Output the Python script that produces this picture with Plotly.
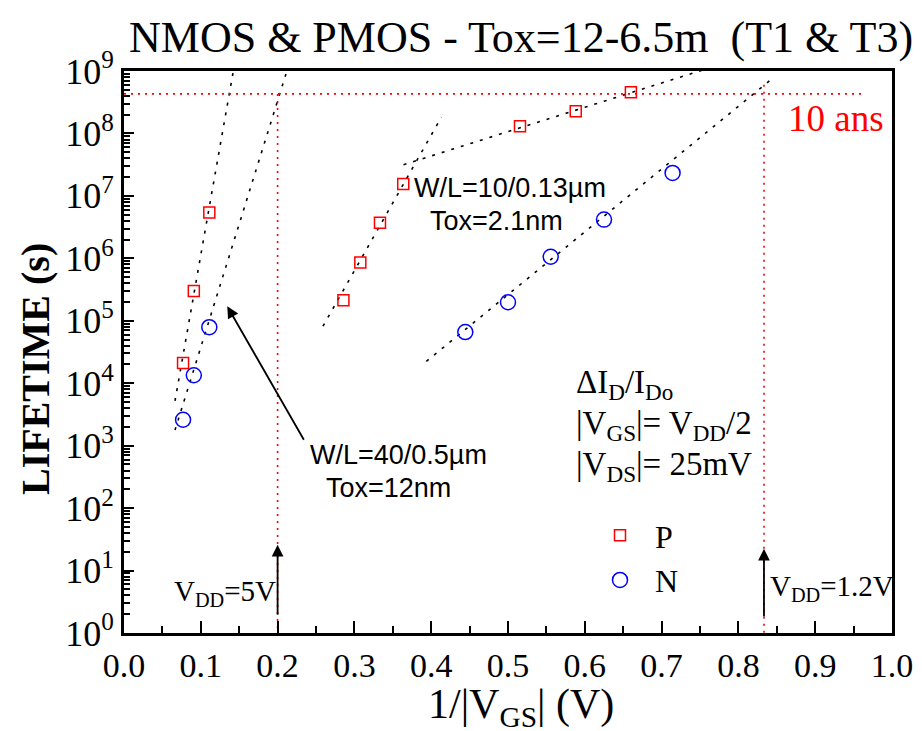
import plotly.graph_objects as go
import numpy as np

# ---------------- data ----------------
# PMOS (squares)
p_x_thick = [0.0769, 0.0909, 0.1111]
p_y_thick = [2.1e4, 3.0e5, 5.4e6]
p_x_thin = [0.2857, 0.3077, 0.3333, 0.3636, 0.5156, 0.5882, 0.6600]
p_y_thin = [2.13e5, 8.6e5, 3.7e6, 1.55e7, 1.3e8, 2.27e8, 4.57e8]
# NMOS (circles)
n_x_thick = [0.0769, 0.0909, 0.1111]
n_y_thick = [2.6e3, 1.34e4, 7.9e4]
n_x_thin = [0.4444, 0.5000, 0.5556, 0.6250, 0.7143]
n_y_thin = [6.6e4, 1.98e5, 1.06e6, 4.17e6, 2.33e7]

# fitted (dotted) lines: end points (x, lifetime)
fit_p_thick_x = [0.0664, 0.1419]
fit_p_thick_y = [5.2e3, 9.3e8]
fit_n_thick_x = [0.0664, 0.2113]
fit_n_thick_y = [1.78e3, 9.3e8]
fit_p_thin1_x = [0.2591, 0.4132]
fit_p_thin1_y = [8.2e4, 1.82e8]
fit_p_thin2_x = [0.3640, 0.7600]
fit_p_thin2_y = [3.16e7, 1.1e9]
fit_n_thin_x = [0.3937, 0.8460]
fit_n_thin_y = [2.24e4, 7.9e8]

# 10-year criterion and supply-voltage markers
ten_years = 4.3e8
ten_years_x = [0.0, 0.965]
vdd_5v_x = 0.2
vdd_12v_x = 0.8333
vdd_12v_top = 6.0e8

y_tickvals = [10 ** k for k in range(10)]
y_ticktext = ["10<sup>%d</sup>" % k for k in range(10)]
x_tickvals = [round(0.1 * k, 1) for k in range(11)]
x_ticktext = ["%.1f" % v for v in x_tickvals]

SERIF = "Liberation Serif"
SANS = "Liberation Sans"

fig = go.Figure()

dot_black = dict(color="black", width=1.6, dash="3px,7px")
for xs, ys in [(fit_p_thick_x, fit_p_thick_y), (fit_n_thick_x, fit_n_thick_y),
               (fit_p_thin1_x, fit_p_thin1_y), (fit_p_thin2_x, fit_p_thin2_y),
               (fit_n_thin_x, fit_n_thin_y)]:
    fig.add_trace(go.Scatter(x=xs, y=ys, mode="lines", line=dot_black,
                             showlegend=False, hoverinfo="skip"))

red_dot = dict(color="red", width=1.6, dash="2px,5px")
fig.add_trace(go.Scatter(x=ten_years_x, y=[ten_years, ten_years], mode="lines",
                         line=red_dot, showlegend=False, hoverinfo="skip"))
fig.add_trace(go.Scatter(x=[vdd_5v_x, vdd_5v_x], y=[ten_years, 1], mode="lines",
                         line=red_dot, showlegend=False, hoverinfo="skip"))
fig.add_trace(go.Scatter(x=[vdd_12v_x, vdd_12v_x], y=[vdd_12v_top, 1], mode="lines",
                         line=red_dot, showlegend=False, hoverinfo="skip"))

fig.add_trace(go.Scatter(x=p_x_thick + p_x_thin, y=p_y_thick + p_y_thin, mode="markers",
                         name="P",
                         marker=dict(symbol="square-open", size=11, color="red",
                                     line=dict(width=1.5, color="red"))))
fig.add_trace(go.Scatter(x=n_x_thick + n_x_thin, y=n_y_thick + n_y_thin, mode="markers",
                         name="N",
                         marker=dict(symbol="circle-open", size=15, color="blue",
                                     line=dict(width=1.5, color="blue"))))

L, R, T, B = 116, 884, 63, 625
W, H = 922, 731


def px(xp):
    return (xp - L) / (R - L)


def py(yp):
    return (B - yp) / (B - T)


ann = []
# title
ann.append(dict(text="NMOS & PMOS - Tox=12-6.5m\u00a0\u00a0(T1 & T3)", xref="paper", yref="paper",
                x=px(513), y=py(29), xanchor="center", yanchor="middle", showarrow=False,
                font=dict(family=SERIF, size=44, color="black")))
# axis titles
ann.append(dict(text="<b>LIFETIME (s)</b>", xref="paper", yref="paper", x=px(27), y=py(361),
                textangle=-90, xanchor="center", yanchor="middle", showarrow=False,
                font=dict(family=SERIF, size=40, color="black")))
ann.append(dict(text="1/|V<sub>GS</sub>| (V)", xref="paper", yref="paper", x=px(513), y=py(699),
                xanchor="center", yanchor="middle", showarrow=False,
                font=dict(family=SERIF, size=42, color="black")))

# device labels
for txt, cx, cy in [("W/L=10/0.13µm", 502, 180), ("Tox=2.1nm", 488, 213),
                    ("W/L=40/0.5µm", 390, 447), ("Tox=12nm", 380, 480)]:
    ann.append(dict(text=txt, xref="paper", yref="paper", x=px(cx), y=py(cy),
                    xanchor="center", yanchor="middle", showarrow=False,
                    font=dict(family=SANS, size=27, color="black")))

ann.append(dict(text="10 ans", xref="paper", yref="paper", x=px(828), y=py(110),
                xanchor="center", yanchor="middle", showarrow=False,
                font=dict(family=SERIF, size=37, color="red")))

for txt, cy in [("ΔI<sub>D</sub>/I<sub>Do</sub>", 376),
                ("|V<sub>GS</sub>|= V<sub>DD</sub>/2", 417),
                ("|V<sub>DS</sub>|= 25mV", 458)]:
    ann.append(dict(text=txt, xref="paper", yref="paper", x=px(566), y=py(cy),
                    xanchor="left", yanchor="middle", showarrow=False,
                    font=dict(family=SERIF, size=33, color="black")))

ann.append(dict(text="V<sub>DD</sub>=5V", xref="paper", yref="paper", x=px(164), y=py(585),
                xanchor="left", yanchor="middle", showarrow=False,
                font=dict(family=SERIF, size=29, color="black")))
ann.append(dict(text="V<sub>DD</sub>=1.2V", xref="paper", yref="paper", x=px(760), y=py(580),
                xanchor="left", yanchor="middle", showarrow=False,
                font=dict(family=SERIF, size=29, color="black")))

# arrows (data coords; log axis -> log10 values)
arrow_style = dict(showarrow=True, arrowhead=2, arrowsize=1.3, arrowwidth=1.8,
                   arrowcolor="black", text="", xref="x", yref="y", axref="x", ayref="y")
ann.append(dict(x=vdd_5v_x, y=1.414, ax=vdd_5v_x, ay=0.27, **arrow_style))
ann.append(dict(x=vdd_12v_x, y=1.35, ax=vdd_12v_x, ay=0.24, **arrow_style))
ann.append(dict(x=0.1345, y=5.232, ax=0.2353, ay=3.07, **arrow_style))

fig.update_layout(
    width=W, height=H,
    margin=dict(l=L, r=W - R, t=T, b=H - B),
    paper_bgcolor="white", plot_bgcolor="white",
    annotations=ann,
    showlegend=True,
    legend=dict(x=px(577), y=py(500), xanchor="left", yanchor="top",
                font=dict(family=SERIF, size=32, color="black"),
                bgcolor="rgba(0,0,0,0)", itemwidth=60, tracegroupgap=0),
    xaxis=dict(range=[0, 1], tickvals=x_tickvals, ticktext=x_ticktext, automargin=False,
               ticks="inside", ticklen=12, tickwidth=2, tickcolor="black",
               showline=True, linewidth=3, linecolor="black", mirror=True,
               showgrid=False, zeroline=False,
               tickfont=dict(family=SERIF, size=34, color="black"),
               minor=dict(ticks="inside", ticklen=7, tickwidth=2, dtick=0.05, tickcolor="black")),
    yaxis=dict(type="log", range=[0, 9], tickvals=y_tickvals, ticktext=y_ticktext, automargin=False,
               ticks="inside", ticklen=10, tickwidth=2, tickcolor="black",
               showline=True, linewidth=3, linecolor="black", mirror=True,
               showgrid=False, zeroline=False,
               tickfont=dict(family=SERIF, size=36, color="black"),
               minor=dict(ticks="inside", ticklen=6, tickwidth=1.5, dtick="D1", tickcolor="black")),
)

fig.write_html("out.html")
